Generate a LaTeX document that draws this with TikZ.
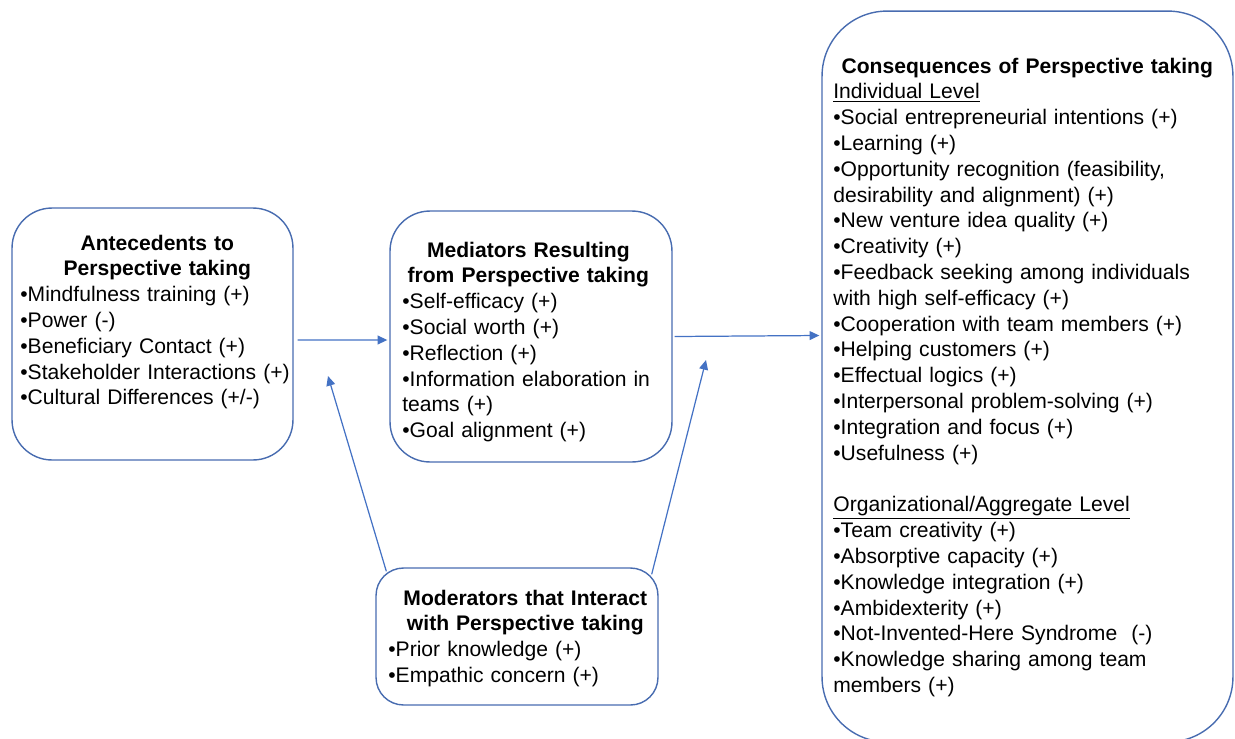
\documentclass[tikz,border=0pt]{standalone}
\usepackage{fontspec}
\setmainfont{Liberation Sans}
\usetikzlibrary{arrows.meta, positioning, calc}
\definecolor{boxblue}{RGB}{72,108,176}
\definecolor{arrblue}{RGB}{68,114,196}
\tikzset{
  box/.style={rectangle, draw=boxblue, line width=0.8pt, rounded corners=0.8cm},
  txt/.style={inner sep=0pt, align=left, font=\fontsize{12}{14.69}\selectfont, anchor=base west},
  arr/.style={-{Triangle[length=5.5pt, width=5pt]}, draw=arrblue, line width=0.7pt}
}
\newcommand{\itm}{•}
\newcommand{\hd}[1]{{\centering\bfseries #1\par}}

\begin{document}
\begin{tikzpicture}[x=0.02cm, y=-0.02cm]
  \useasboundingbox (0,0) rectangle (1235,738);
  \clip (0,0) rectangle (1235,738);

  % Boxes
  \node[box, minimum width=5.62cm, minimum height=5.04cm] (ante) at (152.5,334) {};
  \node[box, minimum width=5.64cm, minimum height=5.02cm] (med) at (531,336.5) {};
  \node[box, minimum width=5.64cm, minimum height=2.74cm, rounded corners=0.55cm] (mod) at (517,636.5) {};
  \node[box, minimum width=8.22cm, minimum height=14.62cm, rounded corners=1.3cm] (cons) at (1027.5,376.5) {};

  % Antecedents
  \node[txt, text width=5.48cm] (anteTxt) at (20,250) {\hd{Antecedents to\\Perspective taking}
    \itm Mindfulness training (+)\\
    \itm Power (-)\\
    \itm Beneficiary Contact (+)\\
    \itm Stakeholder Interactions (+)\\
    \itm Cultural Differences (+/-)};

  % Mediators
  \node[txt, text width=5.04cm] (medTxt) at (402,257) {\hd{Mediators Resulting\\from Perspective taking}
    \itm Self-efficacy (+)\\
    \itm Social worth (+)\\
    \itm Reflection (+)\\
    \itm Information elaboration in\\
    teams (+)\\
    \itm Goal alignment (+)};

  % Moderators
  \node[txt, text width=5.48cm] (modTxt) at (388,605) {\hd{Moderators that Interact\\with Perspective taking}
    \itm Prior knowledge (+)\\
    \itm Empathic concern (+)};

  % Consequences
  \node[txt, text width=7.76cm] (consTxt) at (833,73) {\hd{Consequences of Perspective taking}
    \underline{Individual Level}\\
    \itm Social entrepreneurial intentions (+)\\
    \itm Learning (+)\\
    \itm Opportunity recognition (feasibility,\\
    desirability and alignment) (+)\\
    \itm New venture idea quality (+)\\
    \itm Creativity (+)\\
    \itm Feedback seeking among individuals\\
    with high self-efficacy (+)\\
    \itm Cooperation with team members (+)\\
    \itm Helping customers (+)\\
    \itm Effectual logics (+)\\
    \itm Interpersonal problem-solving (+)\\
    \itm Integration and focus (+)\\
    \itm Usefulness (+)\\[14.69pt]
    \underline{Organizational/Aggregate Level}\\
    \itm Team creativity (+)\\
    \itm Absorptive capacity (+)\\
    \itm Knowledge integration (+)\\
    \itm Ambidexterity (+)\\
    \itm Not-Invented-Here Syndrome~ (-)\\
    \itm Knowledge sharing among team\\
    members (+)};

  % Connectors
  \coordinate (tipA) at (328,376);
  \coordinate (tipB) at (706,360);
  \draw[arr] ($(ante.east)+(4,6)$) -- ($(med.west)+(-2,3.5)$);
  \draw[arr] ($(med.east)+(2,0)$) -- ($(cons.west)+(-2,-41)$);
  \draw[arr] ($(mod.north west)+(11,4)$) -- (tipA);
  \draw[arr] ($(mod.north east)+(-7,7)$) -- (tipB);
\end{tikzpicture}
\end{document}
